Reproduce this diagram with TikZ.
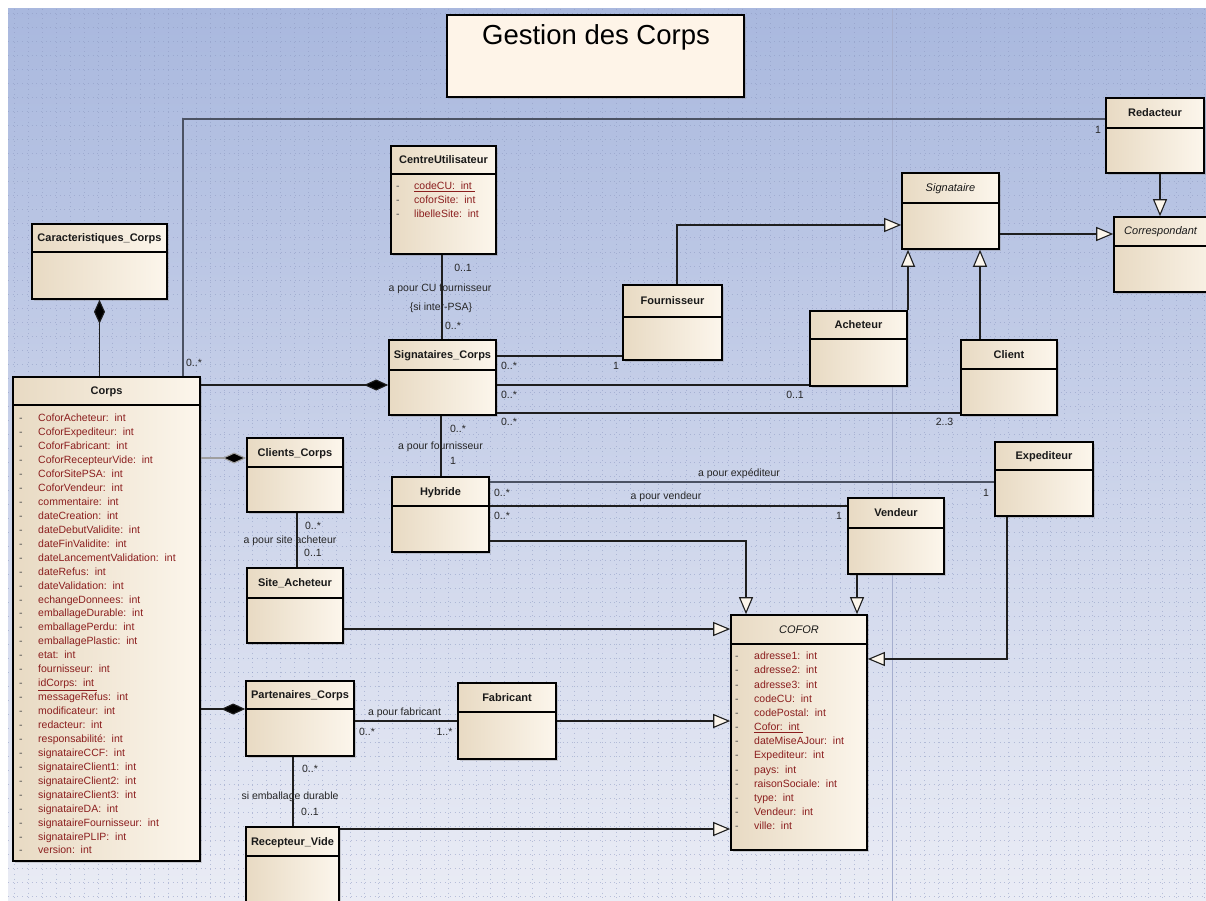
\documentclass[tikz,border=0pt]{standalone}
\usepackage{fontspec}
\setmainfont{Liberation Sans}
\usetikzlibrary{arrows.meta,shadows,fit,calc}

\definecolor{bgTop}{HTML}{A9B8DE}
\definecolor{bgMid}{HTML}{C7D0EA}
\definecolor{bgBot}{HTML}{EAECF5}
\definecolor{clsL}{HTML}{E8DAC3}
\definecolor{clsR}{HTML}{FCF6EC}
\definecolor{titlefill}{HTML}{FEF4E8}
\definecolor{attrc}{HTML}{8B1E1E}
\definecolor{linec}{HTML}{1E1E1E}
\definecolor{heavyc}{HTML}{4B5263}
\definecolor{gridc}{HTML}{8E9AC2}

\tikzset{
  clsbox/.style={draw=black, line width=1.6pt, left color=clsL, right color=clsR,
    inner sep=0pt, drop shadow={shadow xshift=2pt, shadow yshift=-2pt, opacity=0.3}},
  titlebx/.style={draw=black, line width=1.6pt, fill=titlefill, inner sep=0pt,
    drop shadow={shadow xshift=2pt, shadow yshift=-2pt, opacity=0.3}},
  sepline/.style={draw=black, line width=1.4pt},
  clstitle/.style={font=\fontsize{11}{13}\selectfont\bfseries, text=black!90,
    inner sep=0pt, text height=8pt, text depth=2pt},
  attrtxt/.style={font=\fontsize{10.5}{12}\selectfont, text=attrc, inner sep=0pt, anchor=base west},
  attrdash/.style={font=\fontsize{10.5}{12}\selectfont, text=black!70, inner sep=0pt, anchor=base west},
  lbl/.style={font=\fontsize{10.5}{12}\selectfont, text=black!85, inner sep=0pt,
    text height=7.5pt, text depth=2pt},
  assoc/.style={draw=linec, line width=1.1pt},
  heavy/.style={draw=heavyc, line width=1.8pt},
  gen/.style={assoc, -{Triangle[length=17pt,width=14pt,fill=clsR]}},
  compS/.style={assoc, {Diamond[length=24pt,width=11pt,fill=black]}-},
  compE/.style={assoc, -{Diamond[length=24pt,width=11pt,fill=black]}},
  griddot/.style={draw=gridc, line width=1pt, dash pattern=on 1pt off 3.7pt, opacity=0.55},
}

\newcommand\ii{:\hspace{0.55em}int}
\newcommand\umlbox[7]{%
  \node[clsbox, fit={(#2,#3)(#4,#5)}] (#1) {};
  \draw[sepline] (#1.west |- 0,#6) -- (#1.east |- 0,#6);
  \node[clstitle] (#1-t) at ({(#2+#4)/2},{(#3+#6)/2+0.5}) {#7};
}
% name prefix, dash x, text x, first y, step, list
\newcommand\umlattrs[6]{%
  \foreach \t [count=\i from 0] in {#6} {
    \node[attrdash] (#1-d\i) at (#2,{#4+\i*#5+3.8}) {-};
    \node[attrtxt] (#1-a\i) at (#3,{#4+\i*#5+3.8}) {\t};
  }
}
\newcommand\lab[4]{\node[lbl] (#1) at (#2,#3) {#4};}

\begin{document}
\begin{tikzpicture}[x=1pt,y=-1pt]
\useasboundingbox (0,0) rectangle (1206,901);
\fill[white] (0,0) rectangle (1206,901);
\shade[top color=bgTop, middle color=bgMid, bottom color=bgBot] (8,9) rectangle (1206,901);
\foreach \k in {0,...,63} \draw[griddot] (8,{14+\k*14}) -- (1206,{14+\k*14});
\foreach \k in {0,...,85} \draw[griddot] ({14+\k*14},9) -- ({14+\k*14},901);
\draw[draw=gridc!80, line width=0.8pt] (892.5,9) -- (892.5,901);

% ---------- title ----------
\node[titlebx, fit={(447,15)(744,97)}] (titlebox) {};
\node[font=\fontsize{27.5}{32}\selectfont, inner sep=0pt, anchor=base] (titletxt) at (596,45) {Gestion des Corps};

% ---------- classes ----------
\umlbox{caract}{32}{224}{167}{299}{252}{Caracteristiques\_Corps}
\umlbox{corps}{13}{377}{200}{861}{405}{Corps}
\umlbox{cu}{391}{146}{496}{254}{174}{CentreUtilisateur}
\umlbox{sigc}{389}{340}{496}{415}{370}{Signataires\_Corps}
\umlbox{fourn}{623}{285}{722}{360}{317}{Fournisseur}
\umlbox{signat}{902}{173}{999}{249}{203}{\mdseries\itshape Signataire}
\umlbox{redac}{1106}{98}{1204}{173}{128}{Redacteur}
\node[clsbox, fit={(1114,217)(1230,292)}] (corresp) {};
\draw[sepline] (corresp.west |- 0,246) -- (corresp.east |- 0,246);
\node[clstitle, anchor=west, font=\fontsize{11}{13}\selectfont\itshape] (corresp-t) at (1124,232) {Correspondant};
\umlbox{achet}{810}{311}{907}{386}{339}{Acheteur}
\umlbox{client}{961}{340}{1057}{415}{369}{Client}
\umlbox{clientsc}{247}{438}{343}{512}{467}{Clients\_Corps}
\umlbox{hybr}{392}{477}{489}{552}{506}{Hybride}
\umlbox{sitea}{247}{568}{343}{643}{598}{Site\_Acheteur}
\umlbox{exped}{995}{442}{1093}{516}{470}{Expediteur}
\umlbox{vend}{848}{498}{944}{574}{528}{Vendeur}
\umlbox{cofor}{731}{615}{867}{850}{644}{\mdseries\itshape COFOR}
\umlbox{parten}{246}{681}{354}{756}{709}{Partenaires\_Corps}
\umlbox{fabr}{458}{683}{556}{759}{712}{Fabricant}
\umlbox{recep}{246}{827}{339}{918}{856}{Recepteur\_Vide}

% ---------- attributes ----------
\umlattrs{cu}{396}{414}{186}{14}{{\underline{codeCU\ii\ }},coforSite\ii,libelleSite\ii}
\umlattrs{corps}{19}{38}{418}{13.94}{CoforAcheteur\ii,CoforExpediteur\ii,CoforFabricant\ii,
  CoforRecepteurVide\ii,CoforSitePSA\ii,CoforVendeur\ii,commentaire\ii,dateCreation\ii,
  dateDebutValidite\ii,dateFinValidite\ii,dateLancementValidation\ii,dateRefus\ii,
  dateValidation\ii,echangeDonnees\ii,emballageDurable\ii,emballagePerdu\ii,
  emballagePlastic\ii,etat\ii,fournisseur\ii,{\underline{idCorps\ii\ }},messageRefus\ii,
  modificateur\ii,redacteur\ii,responsabilité\ii,signataireCCF\ii,signataireClient1\ii,
  signataireClient2\ii,signataireClient3\ii,signataireDA\ii,signataireFournisseur\ii,
  signatairePLIP\ii,version\ii}
\umlattrs{cofor}{735}{754}{656}{14.17}{adresse1\ii,adresse2\ii,adresse3\ii,codeCU\ii,
  codePostal\ii,{\underline{Cofor\ii\ }},dateMiseAJour\ii,Expediteur\ii,pays\ii,
  raisonSociale\ii,type\ii,Vendeur\ii,ville\ii}

% ---------- connectors ----------
% compositions
\draw[compS] (caract.south) -- (caract.south |- corps.north);
\draw[compE] (corps.east |- 0,385) -- (sigc.west |- 0,385);
\draw[compE, draw=gray!75] (corps.east |- 0,458) -- (clientsc.west |- 0,458);
\draw[compE] (corps.east |- 0,709) -- (parten.west |- 0,709);

% associations
\draw[heavy] (corps.north -| 183,0) |- (redac.west |- 0,119);
\draw[assoc] (cu.south -| 442,0) -- (sigc.north -| 442,0);
\draw[assoc] (sigc.east |- 0,356) -- (fourn.west |- 0,356);
\draw[assoc] (sigc.east |- 0,385) -- (achet.west |- 0,385);
\draw[assoc] (sigc.east |- 0,413) -- (client.west |- 0,413);
\draw[assoc] (sigc.south -| 441,0) -- (hybr.north -| 441,0);
\draw[assoc] (clientsc.south -| 297,0) -- (sitea.north -| 297,0);
\draw[heavy] (hybr.east |- 0,482) -- (exped.west |- 0,482);
\draw[assoc] (hybr.east |- 0,506) -- (vend.west |- 0,506);
\draw[assoc] (parten.east |- 0,721) -- (fabr.west |- 0,721);
\draw[assoc] (parten.south -| 293,0) -- (recep.north -| 293,0);

% generalizations
\draw[gen] (fourn.north -| 677,0) |- (signat.west |- 0,225);
\draw[gen] (signat.east |- 0,234) -- (corresp.west |- 0,234);
\draw[gen] (redac.south -| 1160,0) -- (corresp.north -| 1160,0);
\draw[gen] (achet.north -| 908,0) -- (signat.south -| 908,0);
\draw[gen] (client.north -| 980,0) -- (signat.south -| 980,0);
\draw[gen] (hybr.east |- 0,541) -| (cofor.north -| 746,0);
\draw[gen] (vend.south -| 857,0) -- (cofor.north -| 857,0);
\draw[gen] (exped.south -| 1007,0) |- (cofor.east |- 0,659);
\draw[gen] (sitea.east |- 0,629) -- (cofor.west |- 0,629);
\draw[gen] (fabr.east |- 0,721) -- (cofor.west |- 0,721);
\draw[gen] (recep.east |- 0,829) -- (cofor.west |- 0,829);

% ---------- labels ----------
\lab{l1}{194}{364}{0..*}
\lab{l2}{1098}{131}{1}
\lab{l3}{463}{269}{0..1}
\lab{l4}{440}{289}{a pour CU fournisseur}
\lab{l5}{441}{308}{\{si inter-PSA\}}
\lab{l6}{453}{327}{0..*}
\lab{l7}{509}{367}{0..*}
\lab{l8}{616}{367}{1}
\lab{l9}{509}{396}{0..*}
\lab{l10}{795}{396}{0..1}
\lab{l11}{509}{423}{0..*}
\lab{l12}{944.5}{423}{2..3}
\lab{l13}{458}{430}{0..*}
\lab{l14}{440.5}{447}{a pour fournisseur}
\lab{l15}{453}{462}{1}
\lab{l16}{313}{527}{0..*}
\lab{l17}{290}{541}{a pour site acheteur}
\lab{l18}{313}{554}{0..1}
\lab{l19}{739}{474}{a pour expéditeur}
\lab{l20}{502}{494}{0..*}
\lab{l21}{986}{494}{1}
\lab{l22}{666}{497}{a pour vendeur}
\lab{l23}{502}{517}{0..*}
\lab{l24}{839}{517}{1}
\lab{l25}{404.5}{713}{a pour fabricant}
\lab{l26}{367}{733}{0..*}
\lab{l27}{444.5}{733}{1..*}
\lab{l28}{310}{770}{0..*}
\lab{l29}{290}{797}{si emballage durable}
\lab{l30}{310}{813}{0..1}
\end{tikzpicture}
\end{document}
